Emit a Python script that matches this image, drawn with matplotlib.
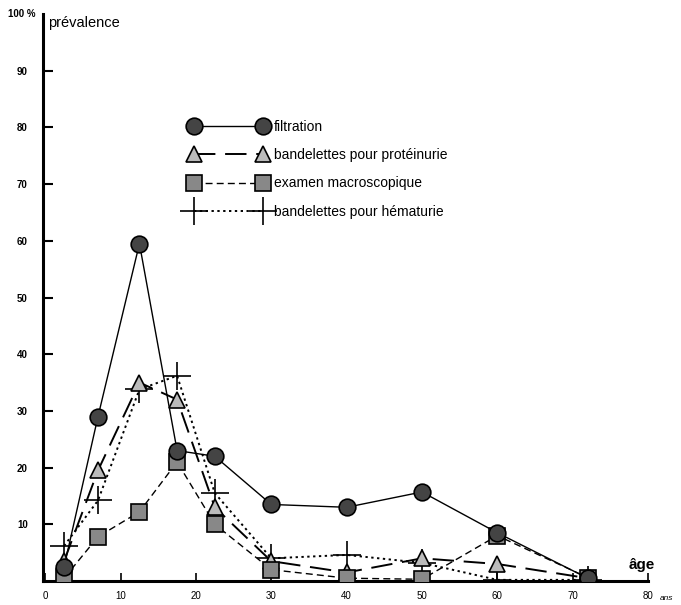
#!/usr/bin/env python3
"""Prévalence par âge selon la méthode de dépistage (scan d'une figure ancienne)."""
import matplotlib
matplotlib.use("Agg")
import matplotlib.pyplot as plt

plt.rcParams["font.family"] = ["Liberation Sans", "DejaVu Sans"]

# ages of the age-group midpoints (ans)
age = [2.5, 7, 12.5, 17.5, 22.5, 30, 40, 50, 60, 72]

# prevalence (%) per method
filtration = [2.5, 29, 59.5, 23, 22, 13.5, 13, 15.7, 8.5, 0.5]
proteinurie = [3.5, 19.5, 35, 32, 13, 3.5, 1.5, 4, 3, 0.5]
macroscopique = [0.5, 7.8, 12.2, 21, 10, 2, 0.5, 0.3, 8, 0.6]
hematurie = [6.2, 14.2, 33.8, 36.2, 15.5, 4, 4.6, 3.2, 0.2, 0.2]

yticks = [10, 20, 30, 40, 50, 60, 70, 80, 90]
xticks = [0, 10, 20, 30, 40, 50, 60, 70, 80]

fig = plt.figure(figsize=(6.81, 6.05), dpi=100)
ax = fig.add_axes([43 / 681, 1 - 581 / 605, (648 - 43) / 681, (581 - 14) / 605])
ax.set_xlim(-0.3, 80)
ax.set_ylim(0, 100)

ax.plot(age, filtration, color="black", lw=1.0, marker="o", ms=12,
        mfc="#444444", mec="black", mew=1.2, label="filtration", zorder=4)
ax.plot(age, proteinurie, color="black", lw=1.4, dashes=(11, 5), marker="^", ms=11,
        mfc="#bbbbbb", mec="black", mew=1.2, label="bandelettes pour protéinurie", zorder=3)
ax.plot(age, macroscopique, color="black", lw=1.0, dashes=(5, 3), marker="s", ms=11,
        mfc="#888888", mec="black", mew=1.2, label="examen macroscopique", zorder=3)
ax.plot(age, hematurie, color="black", lw=1.4, dashes=(1.2, 1.8), marker="+", ms=20,
        mew=1.2, label="bandelettes pour hématurie", zorder=2)

for s in ("top", "right"):
    ax.spines[s].set_visible(False)
for s in ("left", "bottom"):
    ax.spines[s].set_linewidth(2.2)

ax.set_yticks(yticks)
ax.set_yticklabels([str(v) for v in yticks], fontsize=7, fontweight="bold")
ax.tick_params(axis="y", direction="in", length=7, width=1.5, pad=11)
ax.set_xticks(xticks)
ax.set_xticklabels([str(v) for v in xticks], fontsize=7)
ax.tick_params(axis="x", direction="in", length=6, width=1.2, pad=7)

ax.text(-0.012, 1.0, "100 %", transform=ax.transAxes, ha="right", va="center",
        fontsize=7, fontweight="bold")
ax.text(0.008, 0.985, "prévalence", transform=ax.transAxes, ha="left", va="center",
        fontsize=10.5)
ax.text(0.99, 0.015, "âge", transform=ax.transAxes, ha="center", va="bottom",
        fontsize=11, fontweight="bold")
ax.text(1.02, -0.03, "ans", transform=ax.transAxes, ha="left", va="center",
        fontsize=6, style="italic")

ax.legend(loc="upper left", bbox_to_anchor=(0.222, 0.835), frameon=False,
          numpoints=2, handlelength=5.6, handletextpad=0.45, labelspacing=1.02,
          fontsize=10)

fig.savefig("out.png", dpi=100)
